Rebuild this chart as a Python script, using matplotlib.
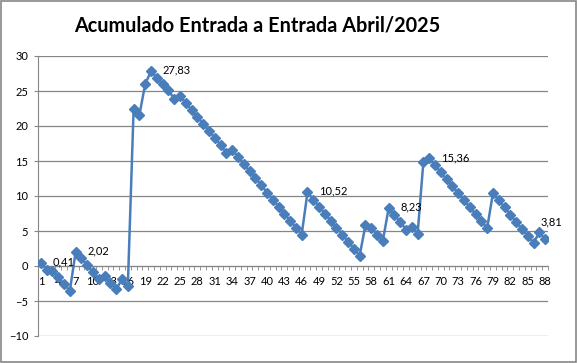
import matplotlib.pyplot as plt
from matplotlib.patches import Rectangle

plt.rcParams['font.family'] = ['Lato', 'DejaVu Sans']

# datos
valores = [0.41, -0.5, -0.7, -1.6, -2.6, -3.5, 2.02, 1.1, 0.1, -0.9,
           -1.8, -1.4, -2.4, -3.3, -1.9, -2.9, 22.5, 21.6, 26.0, 27.83,
           26.9, 26.0, 25.1, 23.9, 24.3, 23.3, 22.3, 21.3, 20.3, 19.3,
           18.3, 17.3, 16.2, 16.6, 15.6, 14.6, 13.6, 12.6, 11.6, 10.5,
           9.5, 8.5, 7.5, 6.5, 5.5, 4.5, 10.52, 9.5, 8.5, 7.5,
           6.5, 5.5, 4.5, 3.5, 2.5, 1.5, 5.8, 5.5, 4.5, 3.6,
           8.23, 7.3, 6.3, 5.2, 5.6, 4.6, 14.9, 15.36, 14.4, 13.4,
           12.4, 11.4, 10.4, 9.4, 8.4, 7.4, 6.4, 5.4, 10.4, 9.4,
           8.4, 7.3, 6.3, 5.3, 4.3, 3.3, 4.8, 3.81]
dias = list(range(1, len(valores) + 1))
etiquetas = [1, 7, 20, 47, 61, 68, 88]   # puntos con valor

azul = '#4A7EBB'
gris = '#868686'

fig = plt.figure(figsize=(5.77, 3.63), dpi=100)
ax = fig.add_axes([38/577, 1 - 336/363, 510/577, 280/363])

ax.plot(dias, valores, color=azul, lw=1.8, marker='D', markersize=5.5,
        markeredgecolor=azul, zorder=3)

for d in etiquetas:
    v = valores[d - 1]
    txt = ('%.2f' % v).replace('.', ',')
    if d == dias[-1]:
        ax.annotate(txt, (d, v), xytext=(-5, 17), textcoords='offset pixels',
                    ha='left', va='center', fontsize=8)
    else:
        ax.annotate(txt, (d, v), xytext=(12, 1), textcoords='offset pixels',
                    ha='left', va='center', fontsize=8)

ax.set_xlim(0.5, len(dias) + 0.5)
ax.set_ylim(-10, 30)
ax.set_yticks(range(-10, 31, 5))
ax.yaxis.grid(True, color=gris, lw=0.9)
ax.set_axisbelow(True)

# eje x en cero
ax.spines['bottom'].set_position(('data', 0))
ax.spines['bottom'].set_color(gris)
ax.spines['left'].set_color(gris)
ax.spines['top'].set_visible(False)
ax.spines['right'].set_visible(False)

ax.set_xticks([i + 0.5 for i in range(0, len(dias) + 1)], minor=True)
ax.set_xticks(dias[::3])
ax.set_xticklabels([str(d) for d in dias[::3]], fontsize=8)
ax.tick_params(axis='x', which='major', length=0, pad=7)
ax.tick_params(axis='x', which='minor', length=3, color=gris, direction='out')
ax.tick_params(axis='y', length=3, color=gris, labelsize=8, pad=4)

fig.text(257/577, 1 - 25/363, 'Acumulado Entrada a Entrada Abril/2025',
         ha='center', va='center', fontsize=14.3, fontweight='bold')

fig.patches.append(Rectangle((0.001, 0.002), 0.997, 0.995, transform=fig.transFigure,
                             fill=False, edgecolor=gris, lw=1.2))

fig.savefig('out.png', dpi=100)
